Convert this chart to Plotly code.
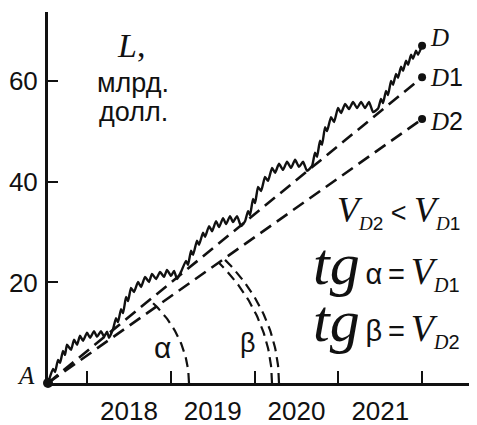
import math
import plotly.graph_objects as go

# ---------------- data ----------------
years_d = [2017.534, 2017.594, 2017.618, 2017.654, 2017.678, 2017.713, 2017.737, 2017.761,
           2017.809, 2017.845, 2017.881, 2017.916, 2017.952, 2018.000, 2018.036, 2018.084,
           2018.119, 2018.167, 2018.203, 2018.239, 2018.263, 2018.310,
           2018.346, 2018.370, 2018.406, 2018.430, 2018.466, 2018.490, 2018.525, 2018.561,
           2018.609, 2018.645, 2018.693, 2018.740, 2018.776, 2018.824, 2018.872, 2018.919,
           2018.955, 2019.003, 2019.039, 2019.075, 2019.122,
           2019.182, 2019.206, 2019.242, 2019.266, 2019.313, 2019.337, 2019.385, 2019.409,
           2019.457, 2019.493, 2019.540, 2019.576, 2019.624, 2019.660, 2019.707, 2019.743,
           2019.791, 2019.839, 2019.887,
           2019.922, 2019.946, 2019.982, 2020.006, 2020.042, 2020.078, 2020.125, 2020.161,
           2020.209, 2020.245, 2020.292, 2020.340, 2020.388, 2020.436, 2020.484, 2020.531,
           2020.579, 2020.627, 2020.687,
           2020.722, 2020.746, 2020.782, 2020.806, 2020.842, 2020.866, 2020.913, 2020.949,
           2020.997, 2021.033, 2021.081, 2021.128, 2021.176, 2021.224, 2021.272, 2021.319,
           2021.367, 2021.415, 2021.475,
           2021.510, 2021.534, 2021.570, 2021.594, 2021.630, 2021.654, 2021.689, 2021.713,
           2021.749, 2021.773, 2021.809, 2021.833, 2021.869, 2021.892, 2021.928, 2021.952,
           2022.000]
values_d = [0.0, 2.8, 2.2, 4.6, 4.0, 6.4, 5.6, 7.6,
            6.6, 8.6, 7.6, 9.4, 8.4, 10.0, 9.0, 10.3,
            9.2, 10.3, 9.2, 10.2, 9.0, 10.7,
            12.9, 12.1, 14.7, 13.9, 17.1, 16.3, 18.9, 18.1,
            20.1, 19.1, 21.1, 20.1, 21.7, 20.7, 22.1, 21.1,
            22.5, 21.3, 22.3, 20.7, 22.1,
            24.3, 23.5, 26.3, 25.5, 28.3, 27.5, 29.9, 29.1,
            31.2, 30.2, 32.2, 31.0, 32.8, 31.6, 33.2, 32.0,
            33.2, 31.2, 32.2,
            34.2, 33.4, 36.6, 35.8, 39.0, 38.2, 41.0, 40.2,
            42.8, 41.8, 43.6, 42.4, 44.0, 42.8, 44.4, 43.0,
            44.0, 42.2, 43.2,
            45.8, 45.0, 48.2, 47.4, 50.9, 50.1, 52.9, 51.9,
            54.7, 53.7, 55.5, 54.5, 55.9, 54.7, 55.9, 54.7,
            55.9, 53.9, 54.6,
            56.5, 55.7, 58.1, 57.3, 60.1, 59.3, 61.5, 60.7,
            62.9, 62.1, 64.1, 63.3, 65.3, 64.5, 66.1, 65.3,
            67.1]

line_years = [2017.534, 2022.0]
values_d1 = [0.0, 60.8]
values_d2 = [0.0, 52.5]

year_ticks = [2018, 2019, 2020, 2021, 2022]
year_labels = ["2018", "2019", "2020", "2021", ""]
value_ticks = [20, 40, 60]
value_labels = ["20", "40", "60"]

# ---------------- layout geometry ----------------
OFF = 8                      # default page body margin
W, H = 477 - OFF, 425 - OFF
ML, MR, MT, MB = 48 - OFF, 0, 12 - OFF, 42
PW, PH = W - ML - MR, H - MT - MB
X0, X1 = 2017.534, 2022.656
Y0, Y1 = 0.0, 73.8
KX = PW / (X1 - X0)   # px per year
KY = PH / (Y1 - Y0)   # px per unit

SANS = "Liberation Sans, Arial, sans-serif"
SERIF = "Liberation Serif, Times New Roman, serif"
INK = "#111111"


def px(xp, yp):
    """page pixel position -> paper coordinates"""
    return (xp - OFF - ML) / PW, (H - MB - (yp - OFF)) / PH


def arc(slope, a, ratio, n=60):
    b = a * ratio
    theta = math.atan2(slope * KY, KX)
    t_end = math.atan((a / b) * math.tan(theta))
    xs, ys = [], []
    for i in range(n + 1):
        t = t_end * i / n
        xs.append(line_years[0] + a * math.cos(t) / KX)
        ys.append(b * math.sin(t) / KY)
    return xs, ys


fig = go.Figure()

for vals in (values_d1, values_d2):
    fig.add_trace(go.Scatter(x=line_years, y=vals, mode="lines",
                             line=dict(color=INK, width=2.6, dash="13px,7px"),
                             cliponaxis=False, hoverinfo="skip"))

fig.add_trace(go.Scatter(x=years_d, y=values_d, mode="lines",
                         line=dict(color=INK, width=2.4, shape="spline", smoothing=0.5),
                         cliponaxis=False, hoverinfo="skip"))

slope1 = (values_d1[1] - values_d1[0]) / (line_years[1] - line_years[0])
slope2 = (values_d2[1] - values_d2[0]) / (line_years[1] - line_years[0])
ax_, ay_ = arc(slope1, 141, 0.85)
fig.add_trace(go.Scatter(x=ax_, y=ay_, mode="lines",
                         line=dict(color=INK, width=2.2, dash="10px,6px"),
                         cliponaxis=False, hoverinfo="skip"))
for r in (224, 231):
    bx_, by_ = arc(slope2, r, 0.83)
    fig.add_trace(go.Scatter(x=bx_, y=by_, mode="lines",
                             line=dict(color=INK, width=2.2, dash="10px,6px"),
                             cliponaxis=False, hoverinfo="skip"))

fig.add_trace(go.Scatter(x=[line_years[1]] * 3, y=[values_d[-1], values_d1[1], values_d2[1]],
                         mode="markers", marker=dict(color=INK, size=8),
                         cliponaxis=False, hoverinfo="skip"))
fig.add_trace(go.Scatter(x=[line_years[0]], y=[0], mode="markers",
                         marker=dict(color=INK, size=10), cliponaxis=False, hoverinfo="skip"))

ann = []


def text(xp, yp, s, size, family, xanchor="center", yanchor="middle"):
    x, y = px(xp, yp)
    ann.append(dict(x=x, y=y, xref="paper", yref="paper", text=s, showarrow=False,
                    xanchor=xanchor, yanchor=yanchor,
                    font=dict(size=size, family=family, color=INK)))


def sans(s, size=None):
    st = "font-family:'Liberation Sans'"
    if size:
        st += ";font-size:%dpx" % size
    return "<span style=\"%s\">%s</span>" % (st, s)


def vsub(num, size):
    return ("<i>V</i><sub><span style=\"font-size:%dpx\"><i>D</i>%s</span></sub>"
            % (size, sans(num)))


# end labels
for lbl, val, dy in zip(["D", "D1", "D2"], [values_d[-1], values_d1[1], values_d2[1]], [8, 0, -2]):
    s = "<i>D</i>" + (sans(lbl[1:]) if len(lbl) > 1 else "")
    ann.append(dict(x=line_years[1], y=val, xref="x", yref="y", text=s, showarrow=False,
                    xanchor="left", yanchor="middle", xshift=6, yshift=dy,
                    font=dict(size=25, family=SERIF, color=INK)))

text(131, 45, "<i>L</i>,", 34, SERIF)
text(133, 83, "млрд.", 27, SANS)
text(133, 112, "долл.", 27, SANS)
text(26, 375, "<i>A</i>", 25, SERIF)
text(162, 347, "α", 30, SANS)
text(248, 343, "β", 27, SANS)

THIN = "\u2009"
text(462, 212, vsub("2", 19) + sans(" &lt; ", 27) + vsub("1", 19), 36, SERIF,
     xanchor="right")
big_tg = "<span style=\"font-size:60px\"><i>tg</i></span>"
text(462, 264, big_tg + sans(THIN + "α" + THIN + "=" + THIN, 29) + vsub("1", 20), 38, SERIF,
     xanchor="right")
text(462, 321, big_tg + sans(THIN + "β" + THIN + "=" + THIN, 29) + vsub("2", 20), 38, SERIF,
     xanchor="right")

fig.update_layout(
    width=W, height=H,
    margin=dict(l=ML, r=MR, t=MT, b=MB, pad=0, autoexpand=False),
    paper_bgcolor="white", plot_bgcolor="white",
    showlegend=False,
    annotations=ann,
    xaxis=dict(range=[X0, X1], showgrid=False, zeroline=False, automargin=False,
               showline=True, linecolor=INK, linewidth=3,
               ticks="inside", ticklen=12, tickwidth=2, tickcolor=INK,
               tickvals=year_ticks, ticktext=year_labels,
               ticklabelshift=round(KX / 2), ticklabelstandoff=3,
               tickfont=dict(size=26, family=SANS, color=INK)),
    yaxis=dict(range=[Y0, Y1], showgrid=False, zeroline=False, automargin=False,
               showline=True, linecolor=INK, linewidth=3,
               ticks="inside", ticklen=10, tickwidth=2, tickcolor=INK,
               tickvals=value_ticks, ticktext=value_labels,
               ticklabelstandoff=2,
               tickfont=dict(size=26, family=SANS, color=INK)),
)

fig.write_html("out.html")
